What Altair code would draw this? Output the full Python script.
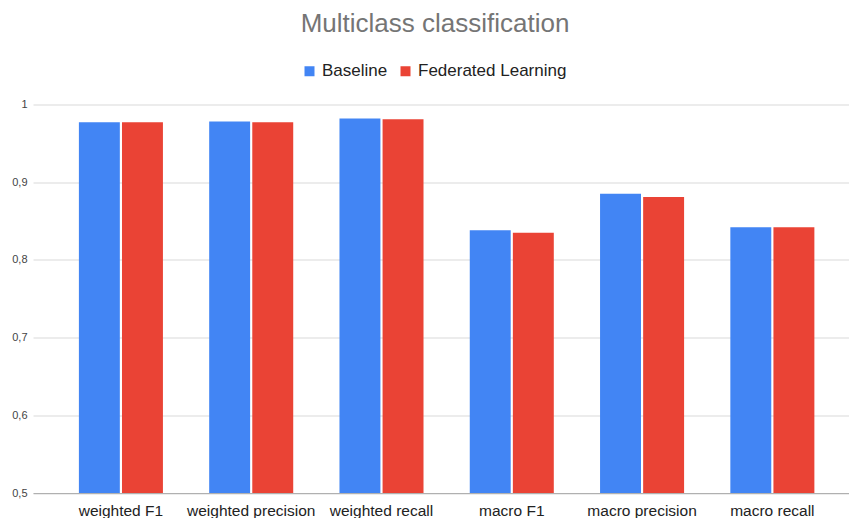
import altair as alt
import pandas as pd

# Scores per metric for the two training setups
metrics = [
    "weighted F1",
    "weighted precision",
    "weighted recall",
    "macro F1",
    "macro precision",
    "macro recall",
]
baseline = [0.977, 0.978, 0.982, 0.838, 0.885, 0.842]
federated = [0.977, 0.977, 0.981, 0.835, 0.881, 0.842]
series = ["Baseline", "Federated Learning"]
colors = ["#4285F4", "#EA4335"]
y_ticks = [0.5, 0.6, 0.7, 0.8, 0.9, 1.0]

rows = []
for m, b, f in zip(metrics, baseline, federated):
    rows.append({"metric": m, "model": series[0], "value": b})
    rows.append({"metric": m, "model": series[1], "value": f})
df = pd.DataFrame(rows)

FONT = "Liberation Sans"

chart = (
    alt.Chart(df)
    .mark_bar(clip=True)
    .encode(
        x=alt.X(
            "metric:N",
            sort=metrics,
            title=None,
            scale=alt.Scale(paddingInner=0.355, paddingOuter=0.309, align=0.57),
            axis=alt.Axis(
                labelAngle=0,
                labelFontSize=15.5,
                labelFont=FONT,
                labelColor="#222222",
                labelPadding=10,
                ticks=False,
                grid=False,
                domainColor="#b0b0b0",
            ),
        ),
        xOffset=alt.XOffset("model:N", sort=series, scale=alt.Scale(paddingInner=0.05)),
        y=alt.Y(
            "value:Q",
            title=None,
            scale=alt.Scale(domain=[0.5, 1.0], nice=False, zero=False),
            axis=alt.Axis(
                values=y_ticks,
                labelExpr="replace(format(datum.value, '~g'), '.', ',')",
                domain=False,
                ticks=False,
                labelFontSize=11,
                labelFont=FONT,
                labelColor="#444444",
                labelPadding=6,
                gridColor="#d9d9d9",
            ),
        ),
        color=alt.Color(
            "model:N",
            sort=series,
            scale=alt.Scale(domain=series, range=colors),
            legend=alt.Legend(
                title=None,
                orient="none",
                direction="horizontal",
                legendX=268,
                legendY=-42,
                symbolType="square",
                symbolSize=100,
                symbolStrokeWidth=0,
                labelFontSize=17,
                labelFont=FONT,
                labelColor="#222222",
                columnPadding=9,
                labelOffset=4,
                padding=0,
            ),
        ),
    )
    .properties(
        width=816,
        height=388.5,
        title=alt.TitleParams(
            "Multiclass classification",
            fontSize=26,
            font=FONT,
            color="#757575",
            fontWeight="normal",
            anchor="middle",
            dx=-6,
            offset=26,
        ),
        autosize=alt.AutoSizeParams(type="none"),
        padding={"left": 33, "top": 104.5, "right": 0, "bottom": 25},
    )
    .configure_view(stroke=None)
)

chart.save("out.html", embed_options={"renderer": "svg", "actions": False})
